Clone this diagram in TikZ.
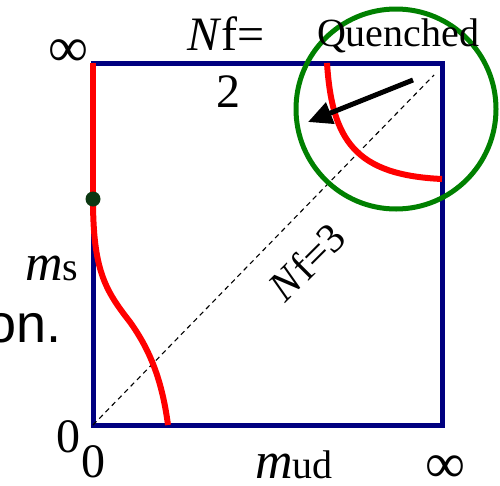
\documentclass[tikz,border=0pt]{standalone}
\usepackage{fontspec}
\setmainfont{Liberation Serif}
\newfontfamily\arialfont{Liberation Sans}
\usetikzlibrary{arrows.meta}
\definecolor{boxnavy}{RGB}{0,0,128}
\definecolor{curvered}{RGB}{255,0,0}
\definecolor{ringgreen}{RGB}{0,128,0}
\definecolor{dotgreen}{RGB}{12,56,18}
\tikzset{
  frame/.style={draw=boxnavy, line width=5pt},
  redcurve/.style={draw=curvered, line width=6pt},
  lbl/.style={inner sep=0pt, outer sep=0pt},
}
\begin{document}
\begin{tikzpicture}[x=1pt,y=-1pt]
\useasboundingbox (0,0) rectangle (500,485);
% frame corners
\coordinate (bl) at (93,425);
\coordinate (tl) at (93,63);
\coordinate (tr) at (442,63);
\coordinate (br) at (442,425);
\draw[frame] (bl) -- (tl) -- (tr) -- (br) -- cycle;
% diagonal
\coordinate (diagend) at (434,75);
\draw[black, line width=1.1pt, dash pattern=on 5pt off 4pt] (bl) -- (diagend);
% red curves
\node[circle, minimum size=15pt, inner sep=0pt] (dot) at (93,199) {};
\coordinate (cmid) at (130,322);
\coordinate (cbot) at (168,425);
\coordinate (qtop) at (327,63);
\coordinate (qright) at (442,179);
\draw[redcurve] (tl) -- (dot.center);
\draw[redcurve] (dot.center) .. controls (93,270) and (105,290) .. (cmid)
  .. controls (150,350) and (162,380) .. (cbot);
\draw[redcurve] (qtop) .. controls (332,140) and (355,175) .. (qright);
% dot on top
\fill[dotgreen] (dot.center) circle (7.5pt);
% green ring
\node[circle, draw=ringgreen, line width=5pt, minimum size=200pt, inner sep=0pt] (ring) at (396,109) {};
% arrow
\coordinate (astart) at (413,80);
\coordinate (aend) at (308,122);
\draw[line width=5pt, -{Triangle[length=24pt,width=22pt]}] (astart) -- (aend);
% labels
\node[lbl, anchor=base, font=\fontsize{48}{57}\selectfont] (nf2a) at (226,50) {\textit{N}f=};
\node[lbl, anchor=base, font=\fontsize{48}{57}\selectfont] (nf2b) at (228,107) {2};
\node[lbl, anchor=base west, font=\fontsize{40}{44}\selectfont] (quen) at (317,46) {Quenched};
\node[lbl, font=\fontsize{56}{60}\selectfont] (inftop) at (68,53) {∞};
\node[lbl, font=\fontsize{56}{60}\selectfont] (infbot) at (445,469) {∞};
\node[lbl, anchor=base west] (ms) at (25,280) {\fontsize{52}{56}\selectfont\textit{m}\fontsize{40}{44}\selectfont s};
\node[lbl, anchor=base west] (mud) at (255,478) {\fontsize{52}{56}\selectfont\textit{m}\fontsize{40}{44}\selectfont ud};
\node[lbl, anchor=base, font=\fontsize{48}{52}\selectfont] (zeroa) at (68,452) {0};
\node[lbl, anchor=base, font=\fontsize{48}{52}\selectfont] (zerob) at (93,477) {0};
\node[lbl, anchor=base east, font=\arialfont\fontsize{54}{58}\selectfont] (on) at (62,342) {on.};
\node[lbl, rotate=45, font=\fontsize{42}{46}\selectfont] (nf3) at (307,262) {\textit{N}f=3};
\end{tikzpicture}
\end{document}
